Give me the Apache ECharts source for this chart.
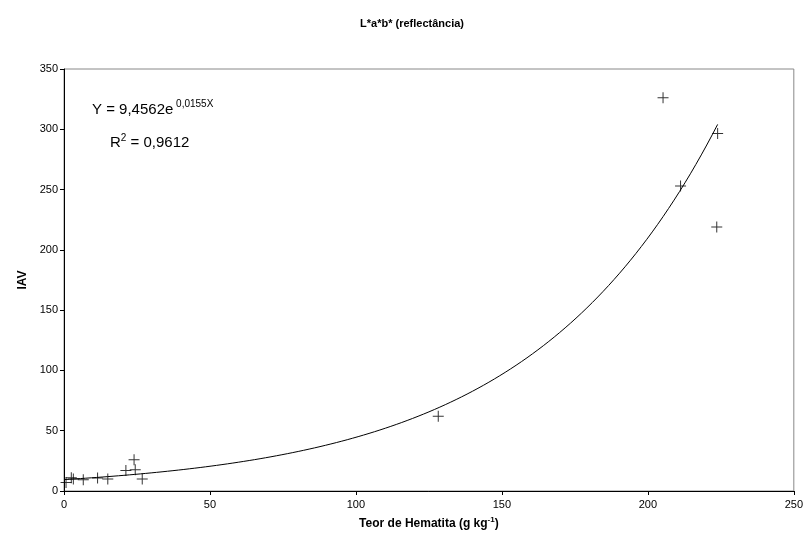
<!DOCTYPE html>
<html>
<head>
<meta charset="utf-8">
<script src="https://cdn.jsdelivr.net/npm/echarts@6/dist/echarts.min.js"></script>
<style>
  html, body { margin: 0; padding: 0; background: #fff; }
  #chart { width: 806px; height: 546px; }
</style>
</head>
<body>
<div id="chart"></div>
<script>
// teor de hematita (g/kg) e IAV
const hematita = [0.7, 2.5, 3.2, 6.6, 11.5, 15, 21.2, 24, 24.4, 26.8, 128.2, 205.2, 211.2, 223.6, 223.9];
const iav      = [7,   11,  10,  9.4, 10.8, 10, 16.9, 26,  17.7, 10,   61.9,  326.2, 253,   218.9, 296.5];

// coeficientes da linha de tendência exponencial (Y = a e^(bX)), como no gráfico
const coefA = 9.4562;
const coefB = 0.0155;

const pontos = hematita.map((x, i) => [x, iav[i]]);

// curva da tendência entre o menor e o maior teor
const xMin = 0, xMax = Math.max(...hematita);
const tendencia = [];
for (let k = 0; k <= 120; k++) {
    const x = xMin + (xMax - xMin) * k / 120;
    tendencia.push([x, coefA * Math.exp(coefB * x)]);
}

const font = 'Liberation Sans, Arial, sans-serif';
const myChart = echarts.init(document.getElementById('chart'));

const option = {
    backgroundColor: '#fff',
    animation: false,
    title: {
        text: 'L*a*b* (reflectância)',
        left: 407,
        textAlign: 'center',
        top: 13,
        textStyle: { fontFamily: font, fontSize: 11, fontWeight: 'bold', color: '#000' }
    },
    grid: {
        left: 64, right: 12, top: 69, bottom: 55,
        show: true, borderColor: '#888', borderWidth: 1, backgroundColor: '#fff'
    },
    xAxis: {
        type: 'value', min: 0, max: 250, interval: 50,
        name: '{n|Teor de Hematita (g kg}{s|-1}{n|)}',
        nameLocation: 'middle', nameGap: 25,
        nameTextStyle: {
            rich: {
                n: { fontFamily: font, fontSize: 12, fontWeight: 'bold', color: '#000' },
                s: { fontFamily: font, fontSize: 8, fontWeight: 'bold', color: '#000', verticalAlign: 'top', padding: [0, 0, 8, 0] }
            }
        },
        axisLine: { show: true, onZero: false, lineStyle: { color: '#000', width: 1 } },
        axisTick: { show: true, length: 4, lineStyle: { color: '#000' } },
        axisLabel: { fontFamily: font, fontSize: 11, color: '#000', margin: 8 },
        splitLine: { show: false }
    },
    yAxis: {
        type: 'value', min: 0, max: 350, interval: 50,
        name: 'IAV', nameLocation: 'middle', nameGap: 35,
        nameTextStyle: { fontFamily: font, fontSize: 12, fontWeight: 'bold', color: '#000' },
        axisLine: { show: true, onZero: false, lineStyle: { color: '#000', width: 1 } },
        axisTick: { show: true, length: 4, lineStyle: { color: '#000' } },
        axisLabel: { fontFamily: font, fontSize: 11, color: '#000', margin: 6 },
        splitLine: { show: false }
    },
    graphic: [
        {
            type: 'text', left: 92, top: 99,
            style: {
                text: '{n|Y = 9,4562e}{s| 0,0155X}',
                rich: {
                    n: { fontFamily: font, fontSize: 15, fill: '#000' },
                    s: { fontFamily: font, fontSize: 10, fill: '#000', verticalAlign: 'top', padding: [0, 0, 12, 0] }
                }
            }
        },
        {
            type: 'text', left: 110, top: 133,
            style: {
                text: '{n|R}{s|2}{n| = 0,9612}',
                rich: {
                    n: { fontFamily: font, fontSize: 15, fill: '#000' },
                    s: { fontFamily: font, fontSize: 10, fill: '#000', verticalAlign: 'top', padding: [0, 0, 10, 0] }
                }
            }
        }
    ],
    series: [
        {
            type: 'line',
            data: tendencia,
            showSymbol: false,
            smooth: false,
            lineStyle: { color: '#000', width: 1 },
            silent: true,
            z: 2
        },
        {
            type: 'scatter',
            data: pontos,
            symbol: 'path://M5,0h1v11h-1z M0,5h11v1h-11z',
            symbolSize: [11, 11],
            itemStyle: { color: '#000' },
            z: 3
        }
    ]
};

option && myChart.setOption(option);
</script>
</body>
</html>
